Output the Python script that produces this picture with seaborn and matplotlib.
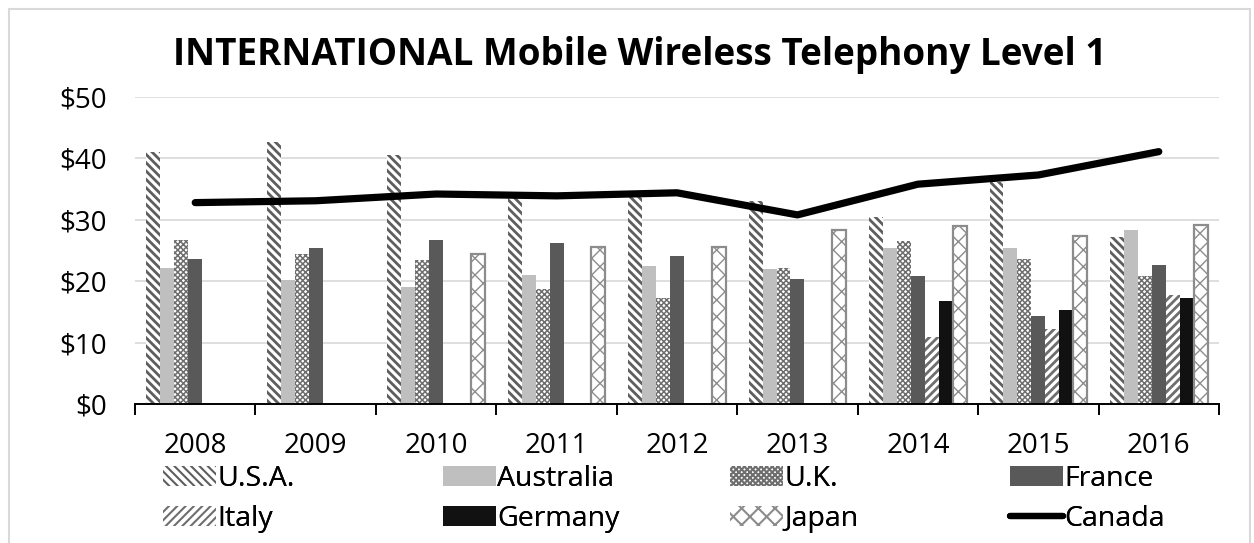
import pandas as pd
import seaborn as sns
import matplotlib.pyplot as plt
import numpy as np
from matplotlib.patches import Patch, Rectangle
from matplotlib.lines import Line2D
from matplotlib.ticker import FixedLocator

# Data
years = ['2008', '2009', '2010', '2011', '2012', '2013', '2014', '2015', '2016']
usa = [41.0, 42.7, 40.5, 33.5, 33.7, 33.1, 30.5, 36.2, 27.2]
australia = [22.1, 20.2, 19.1, 21.0, 22.5, 22.0, 25.4, 25.4, 28.3]
uk = [26.7, 24.4, 23.5, 18.7, 17.3, 22.1, 26.6, 23.6, 20.8]
france = [23.6, 25.4, 26.7, 26.2, 24.1, 20.4, 20.8, 14.3, 22.6]
italy = [None, None, None, None, None, None, 10.9, 12.2, 17.8]
germany = [None, None, None, None, None, None, 16.8, 15.3, 17.2]
japan = [None, None, 24.4, 25.6, 25.6, 28.3, 29.0, 27.4, 29.2]
canada = [32.8, 33.1, 34.2, 33.9, 34.4, 30.8, 35.8, 37.3, 41.1]

countries = ['U.S.A.', 'Australia', 'U.K.', 'France', 'Italy', 'Germany', 'Japan']
series = [usa, australia, uk, france, italy, germany, japan]

rows = []
for c, vals in zip(countries, series):
    for y, v in zip(years, vals):
        if v is not None:
            rows.append({'year': y, 'country': c, 'value': v})
df = pd.DataFrame(rows)

# bar styles: facecolor, edgecolor (hatch colour), hatch, outline width, hatch width
styles = {
    'U.S.A.':    ('white', '#5e5e5e', '\\' * 4, 0, 2.0),
    'Australia': ('#bfbfbf', '#bfbfbf', '', 0, 1.0),
    'U.K.':      ('white', '#6e6e6e', 'x' * 6, 0, 1.1),
    'France':    ('#595959', '#595959', '', 0, 1.0),
    'Italy':     ('white', '#6e6e6e', '/' * 4, 0, 2.0),
    'Germany':   ('#111111', '#111111', '', 0, 1.0),
    'Japan':     ('white', '#8c8c8c', 'xx', 1.6, 1.0),
}

plt.rcParams['font.family'] = ['Open Sans', 'DejaVu Sans']
plt.rcParams['hatch.linewidth'] = 1.5


def set_hw(artist, w):
    try:
        artist.set_hatch_linewidth(w)
    except AttributeError:
        pass


fig = plt.figure(figsize=(12.54, 5.43), dpi=100)
ax = fig.add_axes([135 / 1254, 1 - 404 / 543, (1219 - 135) / 1254, (404 - 97) / 543])

# unique temporary colours so each patch can be matched back to its country
tmp = sns.color_palette('tab10', len(countries))
pal = dict(zip(countries, tmp))
sns.barplot(data=df, x='year', y='value', hue='country', hue_order=countries,
            order=years, palette=pal, saturation=1, width=0.81, dodge=True,
            ax=ax, legend=False)

for p in ax.patches:
    fcol = np.array(p.get_facecolor()[:3])
    dists = {c: np.abs(np.array(col) - fcol).sum() for c, col in pal.items()}
    c = min(dists, key=dists.get)
    if dists[c] < 0.05:
        fc, ec, h, lw, hw = styles[c]
        p.set_facecolor(fc)
        p.set_edgecolor(ec)
        p.set_hatch(h)
        p.set_linewidth(lw)
        set_hw(p, hw)

# Canada line
sns.lineplot(x=np.arange(len(years)), y=canada, color='black', linewidth=5.2,
             ax=ax, solid_capstyle='round', solid_joinstyle='round')

ax.set_ylim(0, 50)
ax.set_xlim(-0.5, len(years) - 0.5)
ax.set_yticks([0, 10, 20, 30, 40, 50])
ax.set_yticklabels(['$0', '$10', '$20', '$30', '$40', '$50'])
ax.set_xlabel('')
ax.set_ylabel('')
ax.grid(axis='y', color='#d9d9d9', linewidth=1.2)
ax.set_axisbelow(True)
for s in ['top', 'right', 'left']:
    ax.spines[s].set_visible(False)
ax.spines['bottom'].set_color('black')
ax.spines['bottom'].set_linewidth(1.4)
ax.tick_params(axis='y', length=0, pad=20, labelsize=20)
ax.tick_params(axis='x', which='major', length=0, pad=20, labelsize=20)
ax.xaxis.set_minor_locator(FixedLocator(np.arange(-0.5, len(years), 1.0)))
ax.tick_params(axis='x', which='minor', length=8, width=1.4, color='black', direction='out')

fig.text(640 / 1254, 1 - 55 / 543, 'INTERNATIONAL Mobile Wireless Telephony Level 1',
         ha='center', va='center', fontsize=26.6, fontweight='bold')

# legend, one small legend per column
handles = {}
for c in countries:
    fc, ec, h, lw, hw = styles[c]
    handles[c] = Patch(facecolor=fc, edgecolor=ec, hatch=h, linewidth=0)
    set_hw(handles[c], hw)
handles['Canada'] = Line2D([0], [0], color='black', linewidth=4.5, solid_capstyle='round')
columns = [['U.S.A.', 'Italy'], ['Australia', 'Germany'], ['U.K.', 'Japan'], ['France', 'Canada']]
col_x = [163, 443, 730, 1010]
for names, x in zip(columns, col_x):
    leg = fig.legend([handles[n] for n in names], names, loc='upper left',
                     bbox_to_anchor=(x / 1254, 1 - 465 / 543), frameon=False,
                     fontsize=20.5, handlelength=1.85, handleheight=0.7,
                     handletextpad=0.05, labelspacing=0.42, borderaxespad=0, borderpad=0)
    fig.add_artist(leg)

# light chart border
fig.patches.append(Rectangle((9 / 1254, -0.02), (1250 - 9) / 1254, 1.02 - 9 / 543,
                             transform=fig.transFigure, fill=False,
                             edgecolor='#d9d9d9', linewidth=1.5))

fig.savefig('out.png', dpi=100, facecolor='white')
